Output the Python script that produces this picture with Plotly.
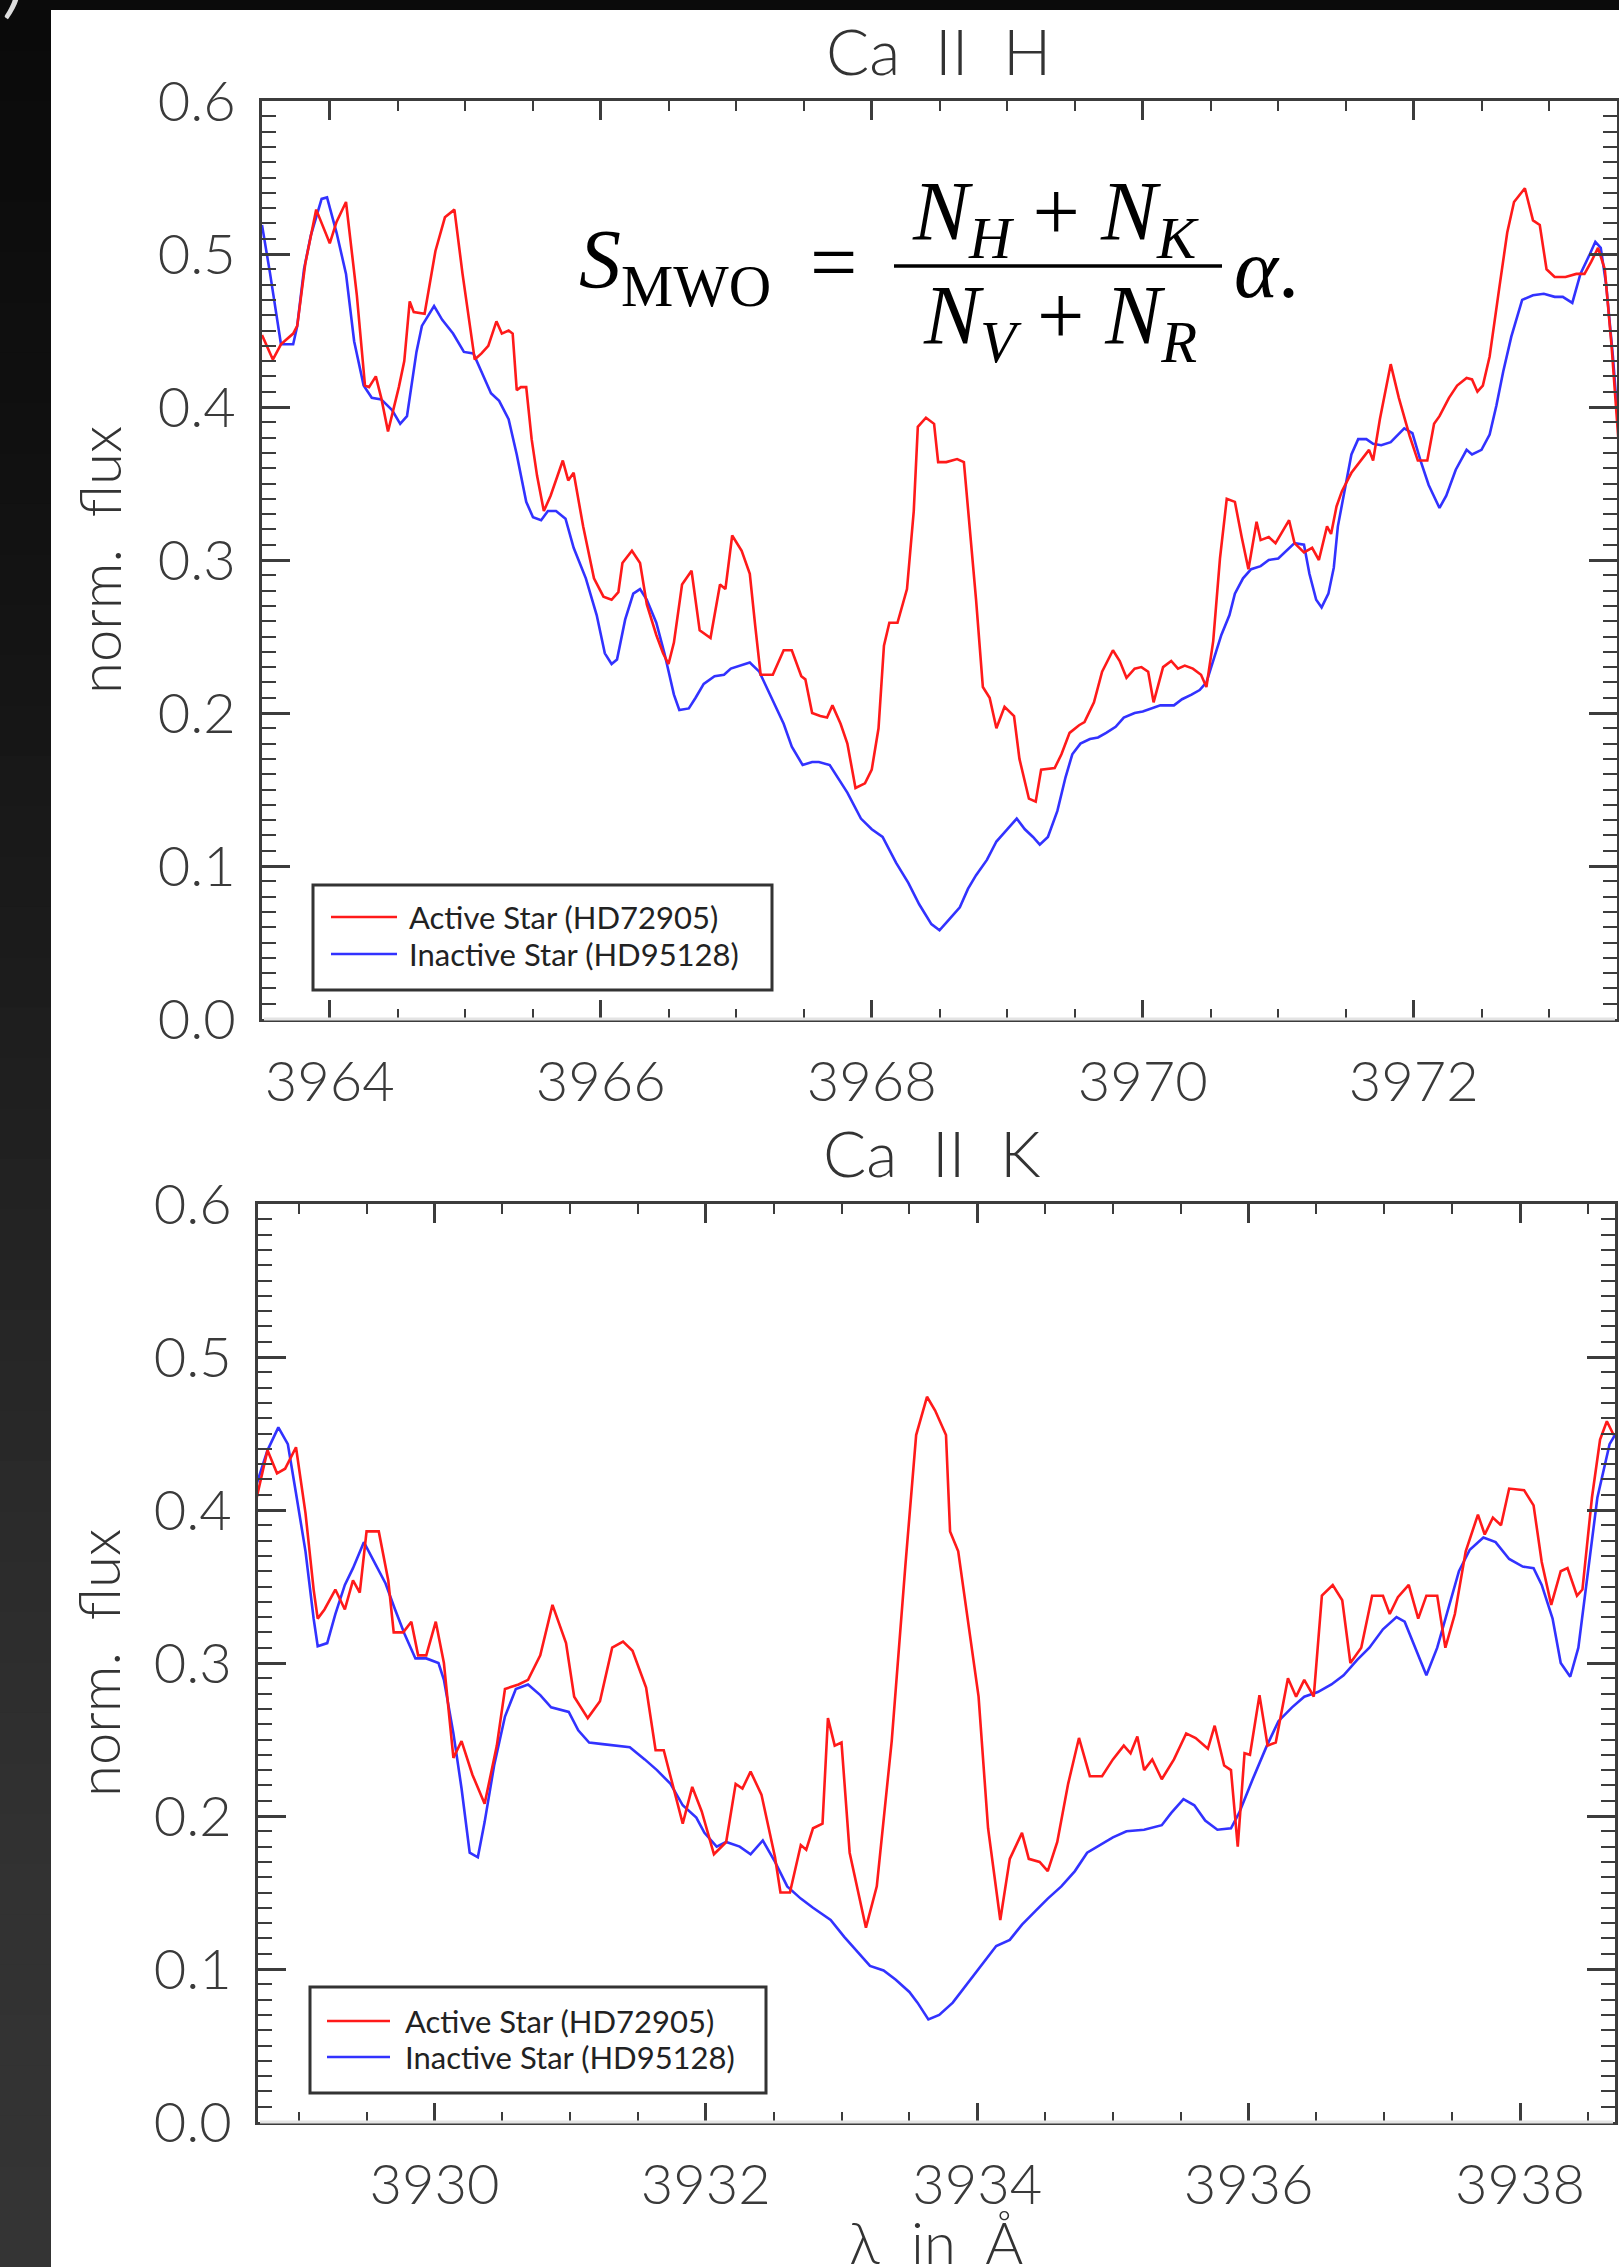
import plotly.graph_objects as go

# ---------------- data ----------------
# Ca II H panel
h_wl_active = [3963.50, 3963.58, 3963.64, 3963.73, 3963.76, 3963.82, 3963.90, 3964.00, 3964.05, 3964.12,
               3964.20, 3964.26, 3964.29, 3964.34, 3964.38, 3964.43, 3964.51, 3964.55, 3964.59, 3964.62,
               3964.70, 3964.78, 3964.85, 3964.92, 3964.98, 3965.07, 3965.12, 3965.17, 3965.23, 3965.27,
               3965.32, 3965.35, 3965.38, 3965.41, 3965.45, 3965.49, 3965.53, 3965.58, 3965.63, 3965.67,
               3965.72, 3965.76, 3965.80, 3965.87, 3965.95, 3966.02, 3966.08, 3966.13, 3966.16, 3966.23,
               3966.29, 3966.34, 3966.41, 3966.46, 3966.50, 3966.54, 3966.60, 3966.67, 3966.73, 3966.81,
               3966.88, 3966.92, 3966.97, 3967.04, 3967.10, 3967.14, 3967.18, 3967.27, 3967.35, 3967.41,
               3967.48, 3967.51, 3967.56, 3967.62, 3967.67, 3967.71, 3967.77, 3967.82, 3967.88, 3967.95,
               3968.00, 3968.05, 3968.09, 3968.13, 3968.19, 3968.26, 3968.31, 3968.34, 3968.40, 3968.46,
               3968.49, 3968.55, 3968.63, 3968.68, 3968.73, 3968.77, 3968.82, 3968.87, 3968.92, 3968.98,
               3969.05, 3969.09, 3969.16, 3969.21, 3969.25, 3969.35, 3969.40, 3969.46, 3969.53, 3969.57,
               3969.64, 3969.70, 3969.78, 3969.83, 3969.88, 3969.94, 3969.99, 3970.04, 3970.08, 3970.15,
               3970.21, 3970.26, 3970.31, 3970.37, 3970.43, 3970.47, 3970.52, 3970.57, 3970.62, 3970.68,
               3970.73, 3970.78, 3970.84, 3970.87, 3970.93, 3970.98, 3971.04, 3971.08, 3971.12, 3971.19,
               3971.25, 3971.30, 3971.36, 3971.39, 3971.43, 3971.47, 3971.54, 3971.60, 3971.67, 3971.70,
               3971.75, 3971.83, 3971.89, 3971.97, 3972.03, 3972.10, 3972.15, 3972.19, 3972.26, 3972.32,
               3972.39, 3972.43, 3972.47, 3972.51, 3972.56, 3972.63, 3972.69, 3972.74, 3972.82, 3972.88,
               3972.93, 3972.98, 3973.04, 3973.12, 3973.20, 3973.26, 3973.31, 3973.36, 3973.41, 3973.46,
               3973.51, 3973.56]
h_flux_active = [0.447, 0.431, 0.441, 0.448, 0.453, 0.494, 0.529, 0.507, 0.521, 0.534,
                 0.473, 0.414, 0.413, 0.420, 0.406, 0.384, 0.413, 0.430, 0.469, 0.462,
                 0.461, 0.502, 0.524, 0.529, 0.487, 0.431, 0.435, 0.440, 0.456, 0.448,
                 0.450, 0.448, 0.411, 0.413, 0.413, 0.379, 0.355, 0.332, 0.342, 0.352,
                 0.365, 0.352, 0.357, 0.322, 0.288, 0.276, 0.274, 0.279, 0.298, 0.306,
                 0.298, 0.271, 0.251, 0.239, 0.232, 0.246, 0.284, 0.293, 0.254, 0.249,
                 0.284, 0.281, 0.316, 0.306, 0.291, 0.257, 0.225, 0.225, 0.241, 0.241,
                 0.224, 0.222, 0.200, 0.198, 0.197, 0.205, 0.193, 0.180, 0.151, 0.154,
                 0.163, 0.190, 0.244, 0.259, 0.259, 0.281, 0.332, 0.387, 0.393, 0.389,
                 0.364, 0.364, 0.366, 0.364, 0.315, 0.274, 0.217, 0.210, 0.190, 0.204,
                 0.198, 0.170, 0.144, 0.142, 0.163, 0.164, 0.173, 0.187, 0.192, 0.194,
                 0.207, 0.227, 0.241, 0.234, 0.223, 0.229, 0.230, 0.227, 0.207, 0.230,
                 0.234, 0.229, 0.231, 0.229, 0.225, 0.217, 0.247, 0.301, 0.340, 0.338,
                 0.315, 0.294, 0.325, 0.313, 0.315, 0.311, 0.320, 0.326, 0.311, 0.305,
                 0.308, 0.300, 0.322, 0.317, 0.335, 0.345, 0.357, 0.364, 0.372, 0.365,
                 0.392, 0.428, 0.406, 0.381, 0.365, 0.365, 0.389, 0.394, 0.406, 0.414,
                 0.419, 0.418, 0.410, 0.414, 0.433, 0.477, 0.514, 0.534, 0.543, 0.522,
                 0.519, 0.490, 0.485, 0.485, 0.487, 0.487, 0.495, 0.504, 0.490, 0.440,
                 0.379, 0.330]

h_wl_inactive = [3963.50, 3963.56, 3963.64, 3963.73, 3963.76, 3963.81, 3963.86, 3963.94, 3963.98, 3964.05,
                 3964.12, 3964.18, 3964.25, 3964.31, 3964.38, 3964.46, 3964.52, 3964.57, 3964.64, 3964.68,
                 3964.77, 3964.83, 3964.91, 3964.99, 3965.06, 3965.12, 3965.19, 3965.25, 3965.32, 3965.38,
                 3965.45, 3965.50, 3965.56, 3965.61, 3965.67, 3965.74, 3965.80, 3965.89, 3965.97, 3966.03,
                 3966.08, 3966.12, 3966.18, 3966.24, 3966.29, 3966.34, 3966.41, 3966.47, 3966.54, 3966.58,
                 3966.65, 3966.70, 3966.76, 3966.84, 3966.91, 3966.96, 3967.04, 3967.10, 3967.17, 3967.27,
                 3967.35, 3967.41, 3967.49, 3967.56, 3967.61, 3967.69, 3967.75, 3967.82, 3967.92, 3968.00,
                 3968.08, 3968.18, 3968.27, 3968.35, 3968.44, 3968.50, 3968.57, 3968.65, 3968.71, 3968.77,
                 3968.85, 3968.92, 3968.98, 3969.07, 3969.13, 3969.19, 3969.24, 3969.30, 3969.37, 3969.43,
                 3969.48, 3969.54, 3969.61, 3969.67, 3969.73, 3969.80, 3969.86, 3969.94, 3970.00, 3970.07,
                 3970.13, 3970.23, 3970.29, 3970.36, 3970.42, 3970.47, 3970.53, 3970.58, 3970.64, 3970.68,
                 3970.74, 3970.80, 3970.87, 3970.93, 3971.00, 3971.06, 3971.12, 3971.19, 3971.23, 3971.28,
                 3971.32, 3971.37, 3971.41, 3971.44, 3971.49, 3971.54, 3971.59, 3971.65, 3971.70, 3971.76,
                 3971.83, 3971.89, 3971.93, 3971.99, 3972.05, 3972.11, 3972.19, 3972.24, 3972.31, 3972.39,
                 3972.43, 3972.50, 3972.56, 3972.61, 3972.66, 3972.72, 3972.80, 3972.88, 3972.96, 3973.04,
                 3973.10, 3973.17, 3973.23, 3973.30, 3973.34, 3973.38, 3973.42, 3973.47, 3973.51, 3973.56]
h_flux_inactive = [0.519, 0.487, 0.441, 0.441, 0.453, 0.490, 0.512, 0.536, 0.537, 0.514,
                   0.487, 0.443, 0.414, 0.406, 0.405, 0.398, 0.389, 0.394, 0.436, 0.453,
                   0.466, 0.457, 0.448, 0.436, 0.435, 0.423, 0.409, 0.404, 0.392, 0.369,
                   0.338, 0.328, 0.326, 0.332, 0.332, 0.327, 0.308, 0.288, 0.264, 0.239,
                   0.232, 0.235, 0.261, 0.278, 0.281, 0.274, 0.259, 0.239, 0.212, 0.202,
                   0.203, 0.210, 0.219, 0.224, 0.225, 0.229, 0.231, 0.233, 0.227, 0.208,
                   0.193, 0.178, 0.166, 0.168, 0.168, 0.166, 0.158, 0.148, 0.131, 0.124,
                   0.119, 0.102, 0.089, 0.075, 0.062, 0.058, 0.065, 0.073, 0.085, 0.094,
                   0.104, 0.116, 0.122, 0.131, 0.124, 0.119, 0.114, 0.119, 0.136, 0.158,
                   0.173, 0.180, 0.183, 0.184, 0.187, 0.191, 0.197, 0.200, 0.201, 0.203,
                   0.205, 0.205, 0.209, 0.212, 0.215, 0.220, 0.237, 0.251, 0.264, 0.278,
                   0.288, 0.294, 0.296, 0.300, 0.301, 0.306, 0.311, 0.310, 0.291, 0.274,
                   0.269, 0.278, 0.295, 0.322, 0.345, 0.369, 0.379, 0.379, 0.376, 0.375,
                   0.377, 0.382, 0.386, 0.383, 0.365, 0.349, 0.334, 0.342, 0.359, 0.372,
                   0.369, 0.372, 0.382, 0.401, 0.423, 0.446, 0.470, 0.473, 0.474, 0.472,
                   0.472, 0.468, 0.487, 0.500, 0.508, 0.504, 0.480, 0.433, 0.386, 0.340]

# Ca II K panel
k_wl_active = [3928.69, 3928.77, 3928.84, 3928.90, 3928.98, 3929.05, 3929.11, 3929.14, 3929.19, 3929.27,
               3929.34, 3929.40, 3929.45, 3929.50, 3929.59, 3929.66, 3929.70, 3929.77, 3929.83, 3929.88,
               3929.94, 3930.01, 3930.07, 3930.14, 3930.20, 3930.28, 3930.37, 3930.46, 3930.52, 3930.62,
               3930.69, 3930.78, 3930.87, 3930.97, 3931.03, 3931.13, 3931.22, 3931.31, 3931.39, 3931.46,
               3931.56, 3931.63, 3931.69, 3931.76, 3931.83, 3931.90, 3931.97, 3932.06, 3932.15, 3932.22,
               3932.27, 3932.33, 3932.41, 3932.51, 3932.55, 3932.62, 3932.70, 3932.74, 3932.79, 3932.86,
               3932.90, 3932.95, 3933.00, 3933.06, 3933.18, 3933.26, 3933.37, 3933.47, 3933.55, 3933.63,
               3933.69, 3933.77, 3933.80, 3933.86, 3933.93, 3934.01, 3934.08, 3934.17, 3934.24, 3934.33,
               3934.38, 3934.46, 3934.52, 3934.59, 3934.67, 3934.75, 3934.83, 3934.92, 3935.00, 3935.08,
               3935.13, 3935.18, 3935.23, 3935.29, 3935.36, 3935.45, 3935.54, 3935.61, 3935.70, 3935.75,
               3935.82, 3935.87, 3935.92, 3935.97, 3936.01, 3936.08, 3936.14, 3936.20, 3936.29, 3936.35,
               3936.41, 3936.48, 3936.54, 3936.62, 3936.69, 3936.75, 3936.83, 3936.91, 3936.99, 3937.04,
               3937.10, 3937.18, 3937.25, 3937.31, 3937.39, 3937.45, 3937.52, 3937.60, 3937.69, 3937.74,
               3937.80, 3937.86, 3937.92, 3938.03, 3938.10, 3938.16, 3938.23, 3938.30, 3938.35, 3938.42,
               3938.46, 3938.53, 3938.59, 3938.64, 3938.69]
k_flux_active = [0.408, 0.439, 0.424, 0.427, 0.441, 0.398, 0.348, 0.329, 0.335, 0.348,
                 0.335, 0.354, 0.346, 0.386, 0.386, 0.354, 0.320, 0.320, 0.327, 0.305,
                 0.305, 0.327, 0.300, 0.238, 0.249, 0.227, 0.208, 0.246, 0.283, 0.286,
                 0.289, 0.305, 0.338, 0.313, 0.278, 0.264, 0.275, 0.310, 0.314, 0.308,
                 0.284, 0.243, 0.243, 0.218, 0.195, 0.219, 0.203, 0.175, 0.183, 0.221,
                 0.218, 0.229, 0.214, 0.173, 0.150, 0.150, 0.181, 0.178, 0.192, 0.195,
                 0.264, 0.246, 0.248, 0.176, 0.127, 0.154, 0.249, 0.363, 0.449, 0.474,
                 0.465, 0.449, 0.386, 0.373, 0.329, 0.278, 0.192, 0.132, 0.172, 0.189,
                 0.172, 0.170, 0.164, 0.183, 0.221, 0.251, 0.226, 0.226, 0.237, 0.246,
                 0.241, 0.252, 0.230, 0.237, 0.224, 0.237, 0.254, 0.251, 0.244, 0.259,
                 0.233, 0.230, 0.180, 0.241, 0.240, 0.279, 0.246, 0.248, 0.290, 0.278,
                 0.289, 0.278, 0.344, 0.351, 0.341, 0.300, 0.310, 0.344, 0.344, 0.332,
                 0.343, 0.351, 0.329, 0.344, 0.344, 0.310, 0.332, 0.373, 0.397, 0.384,
                 0.395, 0.390, 0.414, 0.413, 0.403, 0.366, 0.338, 0.360, 0.362, 0.344,
                 0.348, 0.408, 0.446, 0.458, 0.449]

k_wl_inactive = [3928.69, 3928.77, 3928.85, 3928.92, 3928.98, 3929.05, 3929.11, 3929.14, 3929.21, 3929.27,
                 3929.34, 3929.40, 3929.48, 3929.56, 3929.64, 3929.71, 3929.78, 3929.86, 3929.94, 3930.03,
                 3930.07, 3930.14, 3930.20, 3930.26, 3930.32, 3930.37, 3930.44, 3930.52, 3930.60, 3930.69,
                 3930.78, 3930.86, 3930.99, 3931.06, 3931.14, 3931.24, 3931.33, 3931.44, 3931.55, 3931.64,
                 3931.74, 3931.83, 3931.93, 3931.99, 3932.08, 3932.15, 3932.25, 3932.33, 3932.42, 3932.51,
                 3932.60, 3932.70, 3932.79, 3932.92, 3933.02, 3933.11, 3933.21, 3933.31, 3933.40, 3933.50,
                 3933.56, 3933.64, 3933.72, 3933.82, 3933.93, 3934.04, 3934.14, 3934.24, 3934.33, 3934.43,
                 3934.52, 3934.62, 3934.72, 3934.81, 3934.91, 3935.00, 3935.10, 3935.23, 3935.36, 3935.43,
                 3935.52, 3935.60, 3935.68, 3935.77, 3935.87, 3935.93, 3936.03, 3936.13, 3936.22, 3936.32,
                 3936.41, 3936.51, 3936.61, 3936.70, 3936.80, 3936.89, 3936.99, 3937.09, 3937.15, 3937.23,
                 3937.31, 3937.39, 3937.47, 3937.55, 3937.63, 3937.73, 3937.82, 3937.92, 3938.02, 3938.10,
                 3938.16, 3938.24, 3938.30, 3938.37, 3938.43, 3938.50, 3938.57, 3938.66, 3938.70]
k_flux_inactive = [0.417, 0.439, 0.454, 0.443, 0.411, 0.373, 0.329, 0.311, 0.313, 0.332,
                   0.351, 0.362, 0.379, 0.366, 0.352, 0.335, 0.319, 0.303, 0.303, 0.300,
                   0.289, 0.254, 0.218, 0.176, 0.173, 0.196, 0.233, 0.265, 0.283, 0.286,
                   0.279, 0.271, 0.268, 0.256, 0.248, 0.247, 0.246, 0.245, 0.237, 0.230,
                   0.221, 0.207, 0.199, 0.189, 0.180, 0.183, 0.180, 0.175, 0.184, 0.170,
                   0.154, 0.146, 0.140, 0.132, 0.121, 0.112, 0.102, 0.099, 0.093, 0.085,
                   0.078, 0.067, 0.070, 0.078, 0.091, 0.104, 0.115, 0.119, 0.129, 0.138,
                   0.146, 0.154, 0.164, 0.176, 0.181, 0.186, 0.190, 0.191, 0.194, 0.202,
                   0.211, 0.207, 0.197, 0.191, 0.192, 0.202, 0.224, 0.245, 0.262, 0.271,
                   0.278, 0.281, 0.286, 0.292, 0.302, 0.310, 0.322, 0.330, 0.327, 0.310,
                   0.292, 0.310, 0.335, 0.360, 0.374, 0.382, 0.379, 0.368, 0.363, 0.362,
                   0.351, 0.329, 0.300, 0.291, 0.310, 0.360, 0.408, 0.443, 0.449]

panel_titles = ["Ca\u00a0\u00a0II\u00a0\u00a0H", "Ca\u00a0\u00a0II\u00a0\u00a0K"]
series_names = ["Active Star (HD72905)", "Inactive Star (HD95128)"]
y_title = "norm.\u00a0\u00a0flux"
x_title = "\u03bb\u00a0\u00a0in\u00a0\u00a0\u00c5"

# ---------------- layout helpers ----------------
W, H = 1619, 2267
def px(x):
    return x / W
def py(y):
    return 1 - y / H

RED = "#ff1a1a"
BLUE = "#3232ff"
AX = "#3c3c3c"
SANS = "Lato, Open Sans, sans-serif"
SERIF = "Liberation Serif, DejaVu Serif, serif"

fig = go.Figure()
panels = [
    (h_wl_active, h_flux_active, h_wl_inactive, h_flux_inactive, "x", "y"),
    (k_wl_active, k_flux_active, k_wl_inactive, k_flux_inactive, "x2", "y2"),
]
for wa, fa, wi, fi, xa, ya in panels:
    fig.add_trace(go.Scatter(x=wi, y=fi, mode="lines", name=series_names[1],
                             line=dict(color=BLUE, width=2.6), xaxis=xa, yaxis=ya, showlegend=False))
    fig.add_trace(go.Scatter(x=wa, y=fa, mode="lines", name=series_names[0],
                             line=dict(color=RED, width=2.6), xaxis=xa, yaxis=ya, showlegend=False))

tickfont = dict(family=SANS, size=56, color="#3a3a3a", weight=300)

def xaxis(domain, rng, tick0, anchor):
    return dict(domain=domain, range=rng, anchor=anchor, showgrid=False, zeroline=False,
                showline=True, linecolor=AX, linewidth=3, mirror="ticks",
                ticks="inside", ticklen=19, tickwidth=2.5, tickcolor=AX,
                tick0=tick0, dtick=2, tickformat="d", tickfont=tickfont, ticklabelstandoff=12,
                minor=dict(dtick=0.5, tick0=tick0, ticks="inside", ticklen=10, tickwidth=2, tickcolor=AX))

def yaxis(domain, anchor):
    return dict(domain=domain, range=[0, 0.6], anchor=anchor, showgrid=False, zeroline=False,
                showline=True, linecolor=AX, linewidth=3, mirror="ticks",
                ticks="inside", ticklen=28, tickwidth=2.5, tickcolor=AX,
                tick0=0, dtick=0.1, tickformat=".1f", tickfont=tickfont, ticklabelstandoff=12,
                minor=dict(dtick=0.01, ticks="inside", ticklen=14, tickwidth=2, tickcolor=AX))

# pixel frames of the two panels
top = dict(l=262, r=1617, t=101, b=1019)
bot = dict(l=258, r=1615, t=1204, b=2122)

fig.update_layout(
    width=W, height=H, margin=dict(l=0, r=0, t=0, b=0, pad=0, autoexpand=False),
    paper_bgcolor="white", plot_bgcolor="white", showlegend=False,
    xaxis=xaxis([px(top["l"]), px(top["r"])], [3963.5, 3973.5], 3964, "y"),
    yaxis=yaxis([py(top["b"]), py(top["t"])], "x"),
    xaxis2=xaxis([px(bot["l"]), px(bot["r"])], [3928.7, 3938.7], 3930, "y2"),
    yaxis2=yaxis([py(bot["b"]), py(bot["t"])], "x2"),
)

shapes = []
anns = []

# slide background strips (dark left band with gradient, dark top band)
stops = [(0, 10), (500, 17), (1050, 30), (1500, 42), (1900, 50), (2267, 52)]
def gray_at(y):
    for (y0, g0), (y1, g1) in zip(stops[:-1], stops[1:]):
        if y0 <= y <= y1:
            return g0 + (g1 - g0) * (y - y0) / (y1 - y0)
    return stops[-1][1]
nb = 45
for i in range(nb):
    y0 = H * i / nb
    y1 = H * (i + 1) / nb + 1
    g = int(round(gray_at((y0 + y1) / 2)))
    shapes.append(dict(type="rect", xref="paper", yref="paper", x0=0, x1=px(51),
                       y0=py(y1), y1=py(y0), line=dict(width=0),
                       fillcolor=f"rgb({g},{g},{g})", layer="above"))
shapes.append(dict(type="rect", xref="paper", yref="paper", x0=0, x1=1, y0=py(10), y1=1,
                   line=dict(width=0), fillcolor="#0b0b0b", layer="above"))

# faint bottom axis lines
for fr in (top, bot):
    shapes.append(dict(type="line", xref="paper", yref="paper", x0=px(fr["l"] + 2), x1=px(fr["r"] - 2),
                       y0=py(fr["b"]), y1=py(fr["b"]), line=dict(color="#e4e4e4", width=3), layer="above"))

# legends
legends = [
    dict(box=(313, 772, 885, 990), ys=(917, 954), sx=(331, 397), tx=407),
    dict(box=(310, 766, 1987, 2093), ys=(2021, 2057), sx=(327, 390), tx=403),
]
for lg in legends:
    x0, x1, y0, y1 = lg["box"]
    shapes.append(dict(type="rect", xref="paper", yref="paper", x0=px(x0), x1=px(x1),
                       y0=py(y1), y1=py(y0), line=dict(color="#333333", width=3),
                       fillcolor="white", layer="above"))
    for yy, col, name in zip(lg["ys"], (RED, BLUE), series_names):
        shapes.append(dict(type="line", xref="paper", yref="paper", x0=px(lg["sx"][0]), x1=px(lg["sx"][1]),
                           y0=py(yy), y1=py(yy), line=dict(color=col, width=2.6), layer="above"))
        anns.append(dict(xref="paper", yref="paper", x=px(lg["tx"]), y=py(yy), text=name,
                         showarrow=False, xanchor="left", yanchor="middle",
                         font=dict(family=SANS, size=31, color="#222222")))

# panel titles
for txt, (cx, cy) in zip(panel_titles, [(938, 50), (932, 1152)]):
    anns.append(dict(xref="paper", yref="paper", x=px(cx), y=py(cy), text=txt, showarrow=False,
                     xanchor="center", yanchor="middle",
                     font=dict(family=SANS, size=64, color="#333333", weight=300)))

# y axis titles
for cy in ((top["t"] + top["b"]) / 2, (bot["t"] + bot["b"]) / 2):
    anns.append(dict(xref="paper", yref="paper", x=px(98), y=py(cy), text=y_title, showarrow=False,
                     textangle=-90, xanchor="center", yanchor="middle",
                     font=dict(family=SANS, size=58, color="#333333", weight=300)))

# x axis title (partly cut by the bottom edge)
anns.append(dict(xref="paper", yref="paper", x=px(936), y=py(2205), text=x_title, showarrow=False,
                 xanchor="center", yanchor="top",
                 font=dict(family=SANS, size=58, color="#333333", weight=300)))

# formula S_MWO = (N_H + N_K)/(N_V + N_R) alpha.
fs = dict(family=SERIF, size=84, color="black")
anns.append(dict(xref="paper", yref="paper", x=px(577), y=py(266), text="<i>S</i><sub>MWO</sub>",
                 showarrow=False, xanchor="left", yanchor="middle", font=fs))
anns.append(dict(xref="paper", yref="paper", x=px(834), y=py(262), text="=",
                 showarrow=False, xanchor="center", yanchor="middle", font=fs))
anns.append(dict(xref="paper", yref="paper", x=px(1055), y=py(218),
                 text="<i>N</i><sub><i>H</i></sub> + <i>N</i><sub><i>K</i></sub>",
                 showarrow=False, xanchor="center", yanchor="middle", font=fs))
anns.append(dict(xref="paper", yref="paper", x=px(1060), y=py(322),
                 text="<i>N</i><sub><i>V</i></sub> + <i>N</i><sub><i>R</i></sub>",
                 showarrow=False, xanchor="center", yanchor="middle", font=fs))
anns.append(dict(xref="paper", yref="paper", x=px(1232), y=py(268), text="<i>\u03b1</i>.",
                 showarrow=False, xanchor="left", yanchor="middle", font=fs))
shapes.append(dict(type="line", xref="paper", yref="paper", x0=px(894), x1=px(1222),
                   y0=py(266), y1=py(266), line=dict(color="black", width=3.5), layer="above"))

# slide text fragment in the dark corner
anns.append(dict(xref="paper", yref="paper", x=px(14), y=py(26), text="<i>)</i>", showarrow=False,
                 xanchor="center", yanchor="bottom", font=dict(family=SANS, size=70, color="#dddddd")))

fig.update_layout(shapes=shapes, annotations=anns)
fig.write_html("out.html", config={"displayModeBar": False},
               post_script="document.body.style.margin='0';document.body.style.overflow='hidden';")
